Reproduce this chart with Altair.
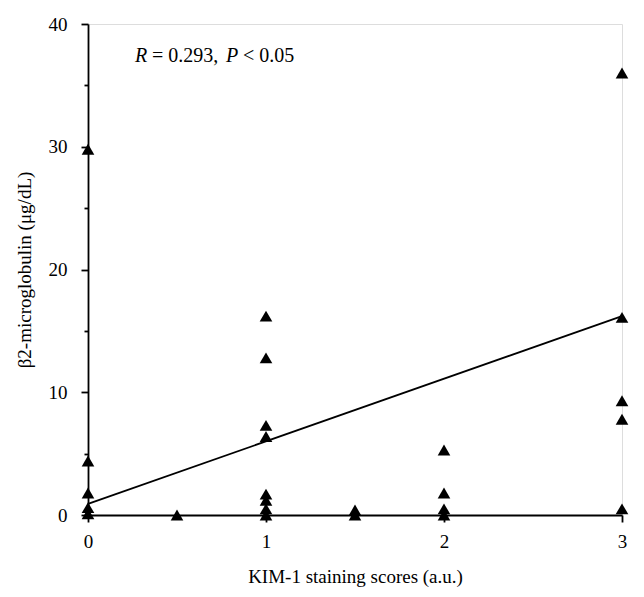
import altair as alt
import pandas as pd

# KIM-1 staining score (x) and beta2-microglobulin (y)
x_vals = [0, 0, 0, 0, 0,
          0.5,
          1, 1, 1, 1, 1, 1, 1, 1,
          1.5, 1.5,
          2, 2, 2, 2,
          3, 3, 3, 3, 3]
y_vals = [29.8, 4.4, 1.8, 0.6, 0.1,
          0.0,
          16.2, 12.8, 7.3, 6.4, 1.7, 1.2, 0.5, 0.0,
          0.4, 0.0,
          5.3, 1.8, 0.5, 0.0,
          36.0, 16.1, 9.3, 7.8, 0.5]

# regression line endpoints
fit_x = [0, 3]
fit_y = [0.9, 16.2]

ann_parts = ["R", "= 0.293,", "P", "< 0.05"]
ann_styles = ["italic", "normal", "italic", "normal"]

FONT = "Liberation Serif"

pts = pd.DataFrame({"x": x_vals, "y": y_vals})
fit = pd.DataFrame({"x": fit_x, "y": fit_y})

xscale = alt.Scale(domain=[0, 3], nice=False, zero=False)
yscale = alt.Scale(domain=[0, 40], nice=False)

xaxis = alt.Axis(values=[0, 1, 2, 3], title="KIM-1 staining scores (a.u.)",
                 grid=False, tickSize=7, tickColor="black", domainColor="black",
                 domainWidth=1.8, tickWidth=1.8, labelFont=FONT, labelFontSize=19,
                 labelColor="black", titleFont=FONT, titleFontSize=19,
                 titleFontWeight="normal", titleColor="black", labelPadding=10,
                 titlePadding=16, format="d", labelFlush=False)
yaxis = alt.Axis(values=[0, 5, 10, 15, 20, 25, 30, 35, 40],
                 labelExpr="datum.value % 10 == 0 ? datum.label : ''",
                 tickSize={"condition": {"test": "datum.value % 10 == 0", "value": 7}, "value": 4},
                 title="β2-microglobulin (μg/dL)",
                 grid=False, tickColor="black", domainColor="black",
                 domainWidth=1.8, tickWidth=1.8, labelFont=FONT, labelFontSize=19,
                 labelColor="black", titleFont=FONT, titleFontSize=19,
                 titleFontWeight="normal", titleColor="black", labelPadding=14,
                 titlePadding=14, format="d", labelFlush=False)

points = alt.Chart(pts).mark_point(shape="triangle-up", filled=True, color="black",
                                   opacity=1, size=160).encode(
    x=alt.X("x:Q", scale=xscale, axis=xaxis),
    y=alt.Y("y:Q", scale=yscale, axis=yaxis),
)

line = alt.Chart(fit).mark_line(color="black", strokeWidth=1.8).encode(
    x=alt.X("x:Q", scale=xscale),
    y=alt.Y("y:Q", scale=yscale),
)

ann_x = [47, 64, 138, 155]
texts = []
for part, style, px in zip(ann_parts, ann_styles, ann_x):
    texts.append(
        alt.Chart(pd.DataFrame({"t": [part]})).mark_text(
            font=FONT, fontSize=20, fontStyle=style, align="left",
            baseline="middle", color="black"
        ).encode(text="t:N", x=alt.value(px), y=alt.value(32))
    )

chart = alt.layer(line, points, *texts).properties(
    width=534, height=491,
    autosize=alt.AutoSizeParams(type="none"),
    padding={"left": 80, "top": 16, "right": 14, "bottom": 74},
).configure_view(stroke=None).configure(background="white")

chart.save("out.html", embed_options={"renderer": "svg", "actions": False})
